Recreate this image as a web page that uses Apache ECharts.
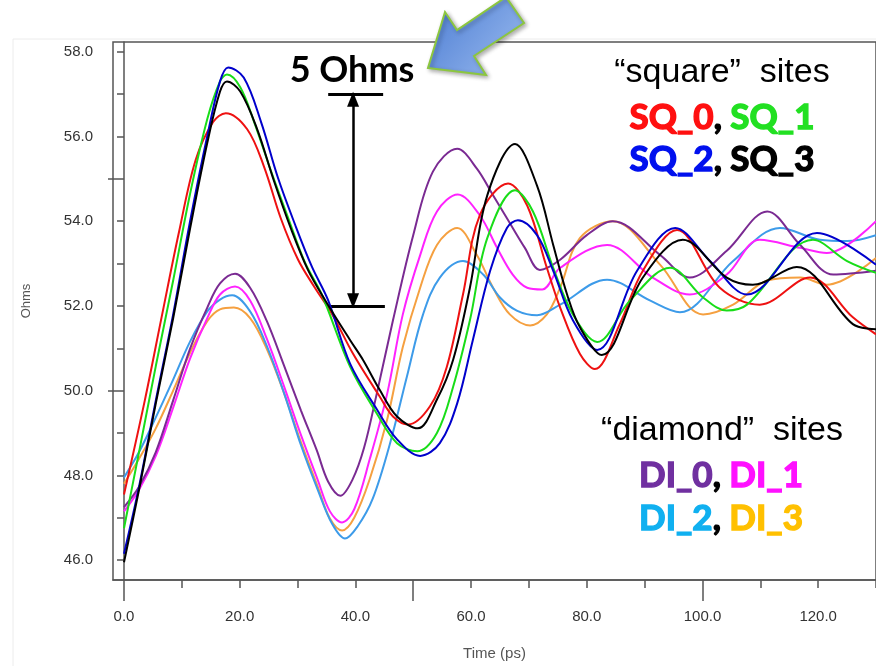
<!DOCTYPE html>
<html>
<head>
<meta charset="utf-8">
<script src="https://cdn.jsdelivr.net/npm/echarts@6.0.0/dist/echarts.min.js"></script>
<style>
html, body {margin:0; padding:0; background:#fff;}
#chart {width:876px; height:666px;}
</style>
</head>
<body>
<div id="chart"></div>
<script>
// axis ticks / labels
var xTicks = [0,10,20,30,40,50,60,70,80,90,100,110,120,130];
var xLabels = [0,20,40,60,80,100,120];
var xMajor = [0,50,100];
var yTicks = [46,47,48,49,50,51,52,53,54,55,56,57,58];
var yLabels = [46,48,50,52,54,56,58];
var yMajor = [50,55];

// [time (ps), ohms]
var sq0 = [[0,47.55],[3.6,49.77],[6.6,51.8],[9.5,53.74],[12.4,55.45],[15.4,56.34],[17.6,56.55],[21.3,56.17],[24.2,55.29],[27.1,54.07],[30.1,53.09],[33,52.43],[36,51.8],[39.6,50.87],[44.2,49.86],[46.5,49.39],[49.1,49.2],[52.9,49.63],[55.8,50.56],[58.6,52.27],[61.5,54.14],[66.4,54.89],[69.7,54.37],[73.1,52.9],[75.4,51.96],[78.8,50.87],[81.4,50.51],[85.7,51.57],[89.7,52.83],[95.6,53.79],[103,52.43],[109.9,52.03],[118.6,52.67],[126,51.73],[130,51.33]];
var sq1 = [[0,46.75],[2.6,48.55],[5.5,50.58],[8.5,52.6],[11.4,54.63],[14.4,56.41],[16.6,57.3],[17.8,57.46],[20.1,57.16],[22.5,56.34],[25.4,55.19],[28.4,54.07],[31.3,53.02],[34.2,52.27],[39.1,50.56],[43.7,49.46],[47.2,48.76],[50.7,48.57],[54.1,49],[56.9,50.09],[59.8,51.66],[62.8,53.6],[67.6,54.73],[70.7,54.23],[74.2,52.9],[77.6,51.8],[81.8,51.15],[87.5,52.13],[94.4,52.9],[100.1,52.2],[104.2,51.89],[107.7,52.03],[119.1,53.56],[125,53.06],[130,52.78]];
var sq2 = [[0,46.15],[2.6,47.73],[5.5,49.77],[8.5,51.8],[11.4,53.98],[14.4,56.01],[16.6,57.3],[18,57.63],[20.7,57.39],[23.7,56.34],[26.6,55.03],[29.6,53.91],[32.5,52.92],[35.3,52.13],[39.1,50.63],[43.7,49.56],[47.2,48.85],[51.2,48.46],[54.6,48.76],[57.6,49.7],[60.3,51.19],[63.3,52.83],[66.2,53.84],[68.1,54.02],[71.4,53.67],[74.2,52.83],[77.6,51.66],[81.8,50.96],[88.7,52.83],[95.3,53.84],[101.3,53.06],[107.7,52.27],[119.8,53.72],[130,52.97]];
var sq3 = [[0,45.95],[2.6,47.66],[5.5,49.7],[8.5,51.71],[11.4,53.81],[14.4,55.85],[16.6,57.06],[17.8,57.3],[20.1,57.06],[23,56.18],[25.9,54.96],[28.9,53.81],[31.8,52.85],[34.8,52.13],[39.1,51.19],[41.3,50.73],[44.2,50.02],[47.2,49.39],[50.8,49.11],[54.1,49.79],[56.9,50.73],[59.8,52.43],[62.8,54.61],[67.6,55.82],[71.4,54.84],[74.2,53.44],[76.6,52.27],[78.8,51.5],[82.6,50.84],[89.7,52.67],[96.6,53.56],[104.2,52.67],[108.7,52.5],[116.3,52.92],[126,51.57],[130,51.45]];
var di0 = [[0,47.25],[2.6,47.73],[5.5,48.55],[8.5,49.77],[11.4,50.98],[14.4,51.96],[16.6,52.53],[19.2,52.76],[21.8,52.43],[24.7,51.64],[27.7,50.58],[30.6,49.53],[33.3,48.6],[35.3,47.85],[37.4,47.52],[39.5,47.9],[41.5,48.65],[43.7,49.93],[46.5,51.66],[50,53.67],[53.4,55.17],[57.6,55.71],[61,55.24],[63.8,54.61],[66.2,54.07],[69.3,53.37],[71.9,52.85],[75.4,53.09],[80,53.67],[84.5,54],[92.7,53.2],[97.8,52.67],[104.2,53.3],[111.2,54.23],[116.9,53.44],[122.6,52.74],[130,52.83]];
var di1 = [[0,47.15],[2.6,47.66],[5.5,48.46],[8.5,49.6],[11.4,50.75],[14.4,51.71],[16.6,52.27],[19.2,52.46],[21.8,52.13],[24.7,51.22],[27.7,50.09],[30.6,48.95],[33.5,47.89],[35.6,47.15],[37.7,46.89],[39.8,47.2],[42.5,48.39],[45.5,49.93],[48.2,51.8],[51.2,53.2],[54.1,54.23],[57.7,54.63],[61.5,54.14],[64.5,53.37],[67.2,52.74],[69.7,52.43],[72.3,52.39],[75.4,52.9],[83.5,53.44],[91.4,52.67],[97.8,52.27],[104.2,52.74],[109.9,53.56],[116.9,53.37],[121.5,53.25],[130,54]];
var di2 = [[0,47.95],[2.6,48.55],[5.5,49.37],[8.5,50.26],[11.4,51.15],[14.4,51.87],[16.6,52.15],[18.7,52.25],[21.8,51.87],[24.7,51.05],[27.7,49.93],[30.6,48.71],[33.5,47.66],[36,46.85],[38.2,46.51],[40.4,46.8],[43,47.45],[46,48.76],[48.9,50.33],[51.7,51.8],[54.6,52.67],[58.6,53.06],[62.1,52.74],[65,52.2],[67.9,51.89],[71.4,51.78],[75.4,52.03],[83.5,52.62],[90.9,52.13],[96.1,51.85],[105.3,53.06],[113.4,53.84],[120.3,53.56],[125,53.53],[130,53.67]];
var di3 = [[0,47.8],[2.6,48.39],[5.5,49.11],[8.5,50],[11.4,50.89],[14.4,51.64],[16.6,51.92],[19,51.96],[21.8,51.71],[24.7,50.98],[27.7,49.93],[30.6,48.78],[33.5,47.73],[35.6,46.98],[37.7,46.7],[39.8,47],[42.5,47.92],[45.5,49.32],[48.2,51.03],[51.2,52.43],[54.1,53.44],[57.6,53.84],[61,53.2],[63.8,52.43],[66.7,51.8],[70.2,51.54],[73.1,51.8],[75.4,52.43],[78.8,53.6],[84.5,54],[92.7,52.97],[100.1,51.8],[105.3,52.03],[111.2,52.6],[116.9,52.67],[121.5,52.5],[130,53.13]];

var names = ['DI_3','DI_2','DI_1','DI_0','SQ_0','SQ_1','SQ_2','SQ_3'];
var values = [di3, di2, di1, di0, sq0, sq1, sq2, sq3];
var colors = ['#f5a040','#3d9be9','#ff22ff','#7a2a92','#ee1111','#18dd18','#0000cc','#000000'];

// the "5 Ohms" bracket, in data units
var bracketTop = [[35.3,57],[44.8,57]];
var bracketBottom = [[35.6,52],[45.1,52]];
var spanArrow = [[39.6,56.88],[39.6,52.12]];

var chart = echarts.init(document.getElementById('chart'));

var series = [];
for (var i = 0; i < names.length; i++) {
    series.push({
        name: names[i],
        type: 'line',
        data: values[i],
        smooth: 0.35,
        symbol: 'none',
        lineStyle: {width: 2, color: colors[i]},
        itemStyle: {color: colors[i]},
        z: 2 + i
    });
}
series[series.length - 1].markLine = {
    silent: true,
    animation: false,
    label: {show: false},
    lineStyle: {type: 'solid', color: '#000', width: 3},
    data: [
        [{coord: bracketTop[0], symbol: 'none'}, {coord: bracketTop[1], symbol: 'none'}],
        [{coord: bracketBottom[0], symbol: 'none'}, {coord: bracketBottom[1], symbol: 'none'}],
        [{coord: spanArrow[0], symbol: 'triangle', symbolSize: [12, 15], lineStyle: {width: 2.5}},
         {coord: spanArrow[1], symbol: 'triangle', symbolSize: [12, 15], lineStyle: {width: 2.5}}]
    ]
};

// heavy rounded labels: bold + a thin stroke of the same colour
var boldRich = function (c) {
    return {fill: c, stroke: c, lineWidth: 1.4, fontFamily: 'Lato', fontWeight: 'bold', fontSize: 35};
};

var option = {
    animation: false,
    backgroundColor: '#fff',
    grid: {left: 113, top: 42, right: 0, bottom: 81, show: true, borderColor: '#555', borderWidth: 1.5},
    xAxis: [
        {
            type: 'value', min: -1.9, max: 130,
            name: 'Time (ps)', nameLocation: 'middle', nameGap: 66,
            nameTextStyle: {fontFamily: 'Liberation Sans', fontSize: 15, color: '#555'},
            axisLine: {show: true, lineStyle: {color: '#555', width: 1.5}},
            axisTick: {show: true, length: 8, customValues: xTicks, lineStyle: {color: '#555', width: 1.5}},
            axisLabel: {customValues: xLabels, margin: 29, fontFamily: 'Liberation Sans', fontSize: 15, color: '#333',
                formatter: function (v) { return v.toFixed(1); }},
            splitLine: {show: false}
        },
        {
            type: 'value', min: -1.9, max: 130, position: 'bottom',
            axisLine: {show: false},
            axisTick: {show: true, length: 21, customValues: xMajor, lineStyle: {color: '#555', width: 1.5}},
            axisLabel: {show: false},
            splitLine: {show: false}
        }
    ],
    yAxis: [
        {
            type: 'value', min: 45.53, max: 58.23,
            name: 'Ohms', nameLocation: 'middle', nameGap: 80,
            nameTextStyle: {fontFamily: 'Liberation Sans', fontSize: 13, color: '#555', padding: [0, 0, 0, 20]},
            axisLine: {show: true, lineStyle: {color: '#555', width: 1.5}},
            axisTick: {show: true, length: 7, customValues: yTicks, lineStyle: {color: '#555', width: 1.5}},
            axisLabel: {customValues: yLabels, margin: 20, fontFamily: 'Liberation Sans', fontSize: 15, color: '#333',
                formatter: function (v) { return v.toFixed(1); }},
            splitLine: {show: false}
        },
        {
            type: 'value', min: 45.53, max: 58.23, position: 'left',
            axisLine: {show: false},
            axisTick: {show: true, length: 16, customValues: yMajor, lineStyle: {color: '#555', width: 1.5}},
            axisLabel: {show: false},
            splitLine: {show: false}
        }
    ],
    series: series,
    graphic: [
        {   // faint frame of the screenshot
            type: 'rect', shape: {x: 13, y: 39, width: 900, height: 700}, z: -1,
            style: {fill: null, stroke: '#ececec', lineWidth: 1}
        },
        {
            type: 'polygon', z: 10,
            shape: {points: [[428,68],[486,75],[474,56],[524,23],[506,-3],[457,30],[445,12]]},
            style: {
                fill: new echarts.graphic.LinearGradient(0, 0, 1, 1, [
                    {offset: 0, color: '#4a7bd2'},
                    {offset: 1, color: '#9dbdf0'}
                ]),
                stroke: '#8cc63f', lineWidth: 2,
                shadowBlur: 4, shadowColor: 'rgba(0,0,0,0.3)', shadowOffsetX: 2, shadowOffsetY: 2
            }
        },
        {
            type: 'text', x: 352, y: 70, z: 10,
            style: {text: '5 Ohms', fill: '#000', fontFamily: 'Lato', fontWeight: 'bold', fontSize: 36,
                align: 'center', verticalAlign: 'middle', textAlign: 'center', textVerticalAlign: 'middle'}
        },
        {
            type: 'text', x: 722, y: 73, z: 10,
            style: {text: '\u201csquare\u201d  sites', fill: '#000', fontFamily: 'Liberation Sans', fontSize: 34,
                align: 'center', verticalAlign: 'middle', textAlign: 'center', textVerticalAlign: 'middle'}
        },
        {
            type: 'text', x: 722, y: 118, z: 10,
            style: {text: '{a|SQ_0}{k|, }{b|SQ_1}', align: 'center', verticalAlign: 'middle',
                textAlign: 'center', textVerticalAlign: 'middle',
                rich: {a: boldRich('#ff1010'), b: boldRich('#22e022'), k: boldRich('#000')}}
        },
        {
            type: 'text', x: 722, y: 160, z: 10,
            style: {text: '{a|SQ_2}{k|, }{b|SQ_3}', align: 'center', verticalAlign: 'middle',
                textAlign: 'center', textVerticalAlign: 'middle',
                rich: {a: boldRich('#0010ee'), b: boldRich('#000'), k: boldRich('#000')}}
        },
        {
            type: 'text', x: 722, y: 431, z: 10,
            style: {text: '\u201cdiamond\u201d  sites', fill: '#000', fontFamily: 'Liberation Sans', fontSize: 34,
                align: 'center', verticalAlign: 'middle', textAlign: 'center', textVerticalAlign: 'middle'}
        },
        {
            type: 'text', x: 721, y: 476, z: 10,
            style: {text: '{a|DI_0}{k|, }{b|DI_1}', align: 'center', verticalAlign: 'middle',
                textAlign: 'center', textVerticalAlign: 'middle',
                rich: {a: boldRich('#7030a0'), b: boldRich('#ff10ff'), k: boldRich('#000')}}
        },
        {
            type: 'text', x: 721, y: 519, z: 10,
            style: {text: '{a|DI_2}{k|, }{b|DI_3}', align: 'center', verticalAlign: 'middle',
                textAlign: 'center', textVerticalAlign: 'middle',
                rich: {a: boldRich('#10b0f0'), b: boldRich('#ffc000'), k: boldRich('#000')}}
        }
    ]
};
chart.setOption(option);
</script>
</body>
</html>
